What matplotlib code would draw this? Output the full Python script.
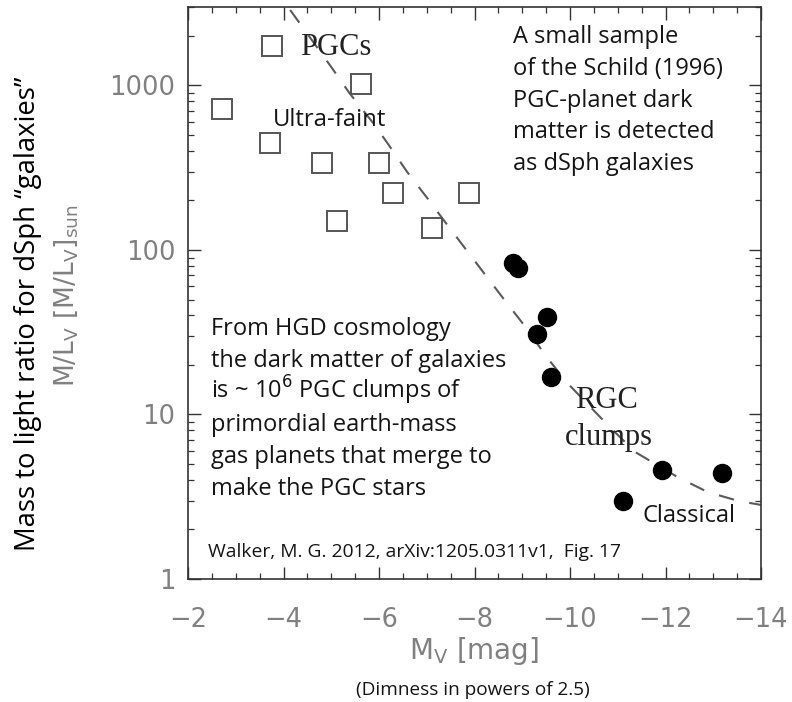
import matplotlib
matplotlib.use("Agg")
import matplotlib.pyplot as plt
from matplotlib.ticker import MultipleLocator, NullFormatter

# ultra-faint dSphs (open squares)
uf_mv = [-2.71, -3.76, -3.72, -4.81, -5.63, -6.00, -5.12, -6.30, -7.12, -7.89]
uf_ml = [720, 1740, 447, 338, 1020, 338, 150, 222, 137, 222]
# classical dSphs (filled circles)
cl_mv = [-8.81, -8.92, -9.51, -9.30, -9.61, -11.12, -11.92, -13.19]
cl_ml = [83, 78, 39, 31, 17, 3.0, 4.6, 4.4]
# dashed trend curve
fit_mv = [-4.14, -5.00, -5.38, -5.86, -6.19, -6.59, -7.01, -7.43, -8.62, -9.07,
          -9.48, -9.92, -10.83, -11.37, -12.25, -12.88, -13.53, -14.0]
fit_ml = [2877, 1295, 900, 600, 441, 298, 207, 142, 50, 34,
          23, 15.8, 8.4, 5.9, 4.17, 3.38, 2.98, 2.82]

xticks = [-2, -4, -6, -8, -10, -12, -14]
yticks = [1, 10, 100, 1000]

W, H = 792, 702
SANS = ["Open Sans", "DejaVu Sans"]
SERIF = ["Liberation Serif", "DejaVu Serif"]
GRAY = "#808080"
INK = "#151515"

fig = plt.figure(figsize=(W / 100, H / 100), dpi=100)
fig.patch.set_facecolor("white")
ax = fig.add_axes([188 / W, 1 - 579 / H, (761 - 188) / W, (579 - 7) / H])
ax.set_yscale("log")

ax.plot(fit_mv, fit_ml, color="#5a5a5a", lw=1.5, ls=(0, (7.5, 7.5)), zorder=2)
ax.plot(uf_mv, uf_ml, ls="none", marker="s", ms=14, mfc="none", mec="#555555",
        mew=1.4, zorder=3)
ax.plot(cl_mv, cl_ml, ls="none", marker="o", ms=13, mfc="black", mec="black", zorder=4)

ax.set_xlim(-2, -14)
ax.set_ylim(1, 3000)
ax.set_xticks(xticks)
ax.set_xticklabels([f"\u2212{abs(v)}" for v in xticks])
ax.xaxis.set_minor_locator(MultipleLocator(0.5))
ax.set_yticks(yticks)
ax.set_yticklabels([str(v) for v in yticks])
ax.yaxis.set_minor_formatter(NullFormatter())
ax.tick_params(which="both", direction="in", top=True, right=True, color="#333333")
ax.tick_params(which="major", length=9, width=1.0)
ax.tick_params(which="minor", length=4.5, width=0.9)
ax.tick_params(axis="x", which="major", pad=20, labelsize=18.5, labelcolor=GRAY)
ax.tick_params(axis="y", which="major", pad=9, labelsize=18.5, labelcolor=GRAY)
for s in ax.spines.values():
    s.set_color("#333333"); s.set_linewidth(1.2)


def t(x, y, s, **kw):
    fig.text(x / W, 1 - y / H, s, **kw)


# annotations
t(300, 55, "PGCs", family=SERIF, fontsize=22, color="#222222")
t(273, 126, "Ultra-faint", family=SANS, fontsize=17.2, color=INK)
for i, line in enumerate(["A small sample", "of the Schild (1996)", "PGC-planet dark",
                          "matter is detected", "as dSph galaxies"]):
    t(513, 43 + i * 31.8, line, family=SANS, fontsize=17, color=INK)
for i, line in enumerate(["From HGD cosmology", "the dark matter of galaxies",
                          r"is ~ 10$^{6}$ PGC clumps of", "primordial earth-mass",
                          "gas planets that merge to", "make the PGC stars"]):
    t(211, 335 + i * 32, line, family=SANS, fontsize=17, color=INK)
t(606, 408, "RGC", family=SERIF, fontsize=22, color="#222222", ha="center")
t(609, 445, "clumps", family=SERIF, fontsize=22, color="#222222", ha="center")
t(642, 522, "Classical", family=SANS, fontsize=17, color=INK)
t(208, 557, "Walker, M. G. 2012, arXiv:1205.0311v1,  Fig. 17", family=SANS,
  fontsize=13.9, color=INK)

# axis labels
t(28, 314, "Mass to light ratio for dSph \u201cgalaxies\u201d", family=SANS, fontsize=19.8,
  color="black", rotation=90, ha="center", va="center")
t(66, 296, r"M/L$_\mathregular{V}$ [M/L$_\mathregular{V}$]$_\mathregular{sun}$",
  fontsize=19, color=GRAY, rotation=90, ha="center", va="center")
t(474, 651, r"M$_\mathregular{V}$ [mag]", fontsize=20, color=GRAY, ha="center", va="center")
t(473, 690, "(Dimness in powers of 2.5)", family=SANS, fontsize=13.7, color=INK,
  ha="center", va="center")

fig.savefig("out.png", dpi=100, facecolor="white")
